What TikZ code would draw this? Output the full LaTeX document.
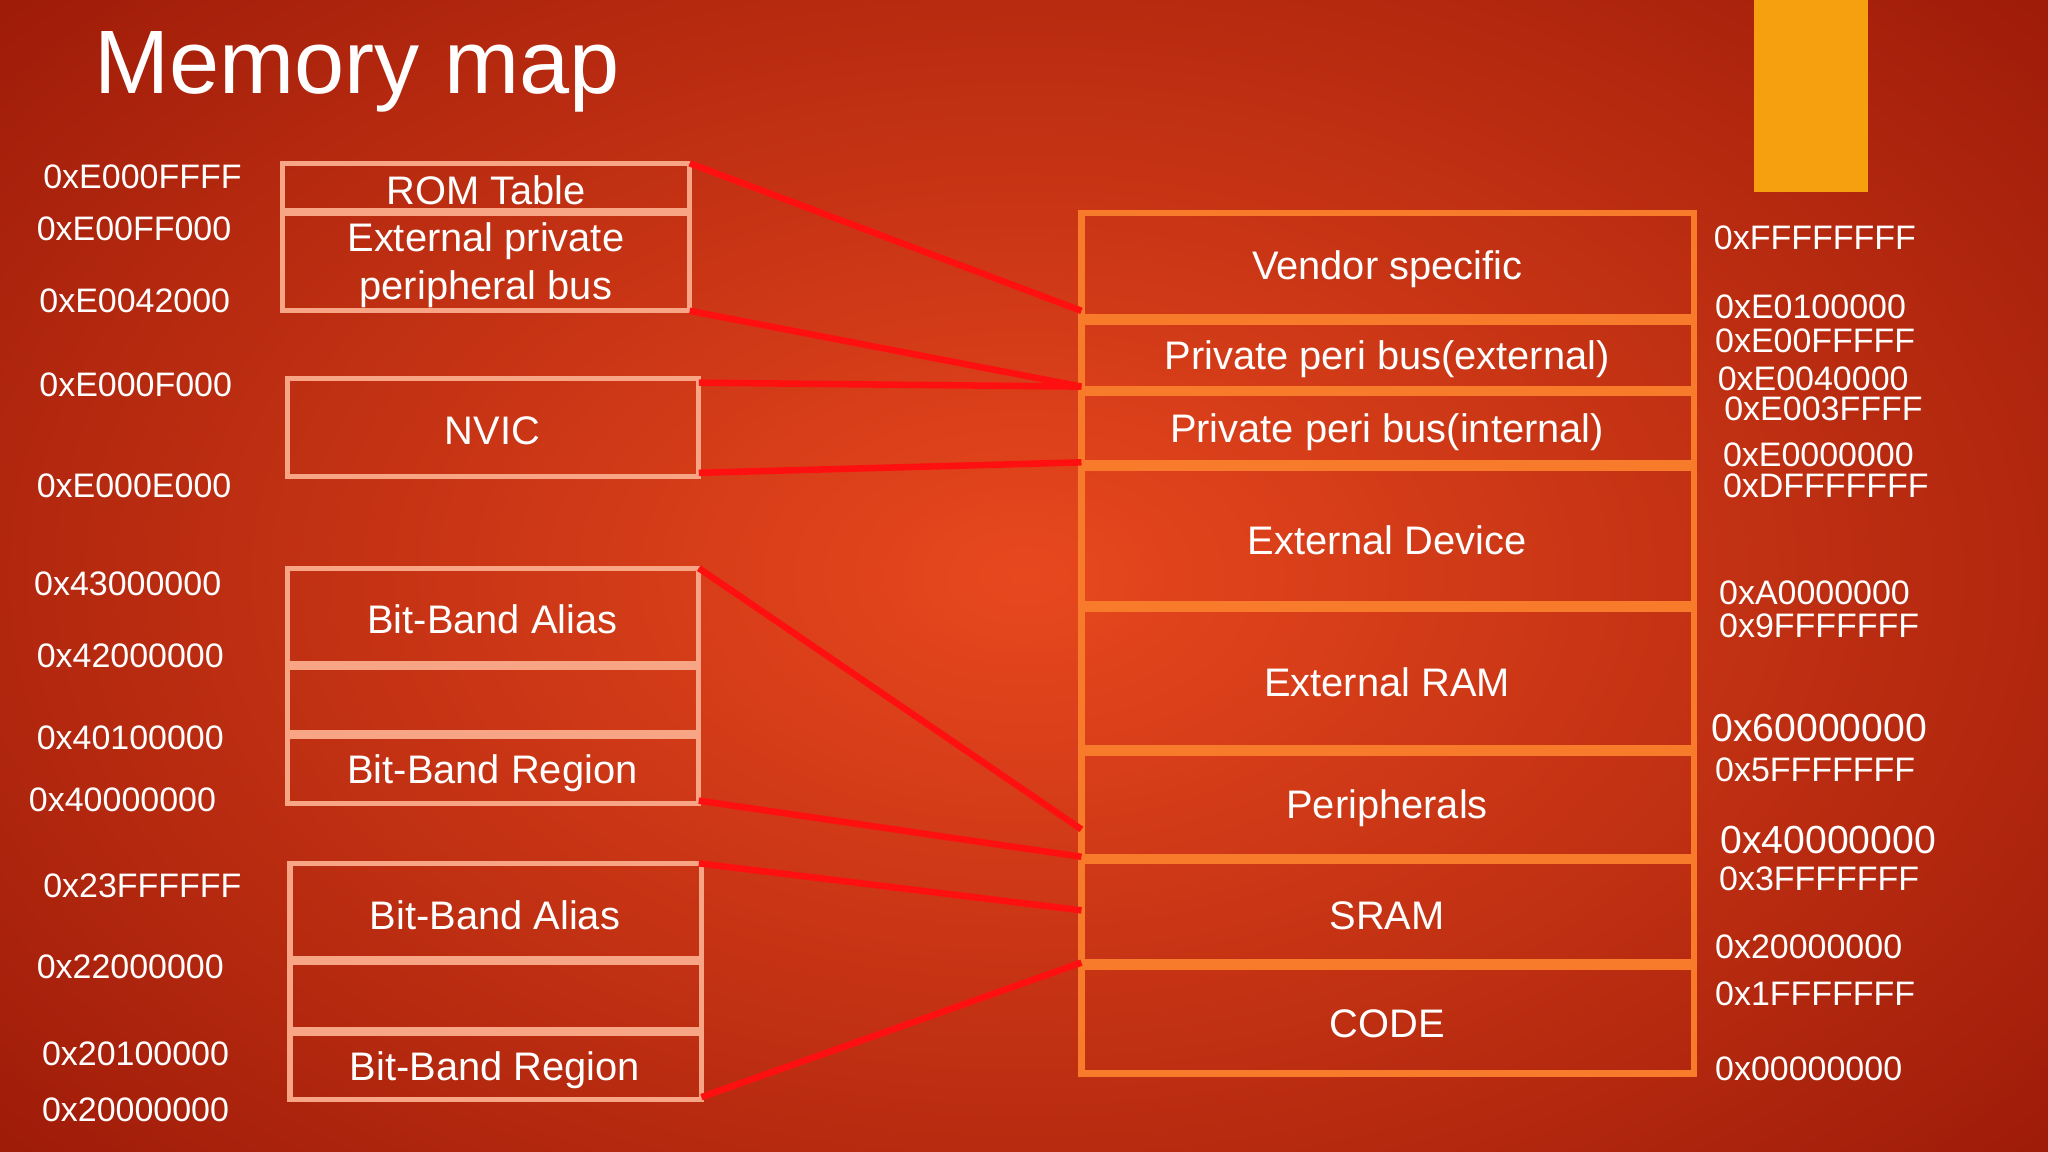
\documentclass[tikz,border=0pt]{standalone}
\usepackage{fontspec}
\setmainfont{Liberation Sans}
\begin{document}
\begin{tikzpicture}[x=1pt,y=-1pt,
  rbox/.style={draw=boxR,line width=5pt},
  lbox/.style={draw=boxL,line width=4pt},
  lab/.style={text=white,font=\fontsize{30.5}{33}\selectfont},
  adr/.style={text=white,font=\fontsize{26}{28}\selectfont,anchor=west,inner sep=0},
  link/.style={draw=lineR,line width=5pt}]
\definecolor{bgin}{HTML}{E8481E}\definecolor{bgout}{HTML}{9C1A08}
\definecolor{boxR}{HTML}{F87B2C}\definecolor{boxL}{HTML}{F7A585}
\definecolor{lineR}{HTML}{FF1010}\definecolor{tab}{HTML}{F6A010}
\useasboundingbox (0,0) rectangle (1568,882);
\shade[inner color=bgin,outer color=bgout] (-300,-250) rectangle (1868,1132);
\fill[tab] (1343,0) rectangle (1430,147);
\node[anchor=west,text=white,font=\fontsize{69}{72}\selectfont,inner sep=0] (title) at (72,55) {Memory map};
% right stack
\foreach \n/\a/\b/\t in {v/163/243/Vendor specific, pe/246/298/Private peri bus(external), pi/301/355/Private peri bus(internal), ed/358/463/External Device, er/466/573/External RAM, pr/576/656/Peripherals, sr/659/737/SRAM, cd/740/822/CODE}
  {\draw[rbox] (828,\a) rectangle (1297,\b);
   \node[lab] (\n) at (1062,{(\a+\b)/2+3}) {\t};}
% left boxes
\draw[lbox] (216,125) rectangle (528,161); \node[lab] (rom) at (372,146) {ROM Table};
\draw[lbox] (216,163) rectangle (528,238); \node[lab,align=center,font=\fontsize{30.5}{37}\selectfont] (epb) at (372,203) {External private\\peripheral bus};
\draw[lbox] (220,290) rectangle (535,365); \node[lab] (nvic) at (377,330) {NVIC};
\draw[lbox] (220,435) rectangle (535,508); \node[lab] (ba1) at (377,474) {Bit-Band Alias};
\draw[lbox] (220,511) rectangle (535,561);
\draw[lbox] (220,564) rectangle (535,615); \node[lab] (br1) at (377,592) {Bit-Band Region};
\draw[lbox] (222,661) rectangle (537,734); \node[lab] (ba2) at (379,701) {Bit-Band Alias};
\draw[lbox] (222,737) rectangle (537,788);
\draw[lbox] (222,791) rectangle (537,842); \node[lab] (br2) at (379,819) {Bit-Band Region};
% connector ends
\foreach \n/\x/\y in {a1/528/125,a2/828/238,b1/528/238,b2/828/296,c1/535/293,d1/535/362,d2/828/354,e1/535/435,e2/828/635,f1/535/613,f2/828/656,g1/535/661,g2/828/697,h1/537/840,h2/828/737}
  \coordinate (\n) at (\x,\y);
\draw[link] (a1)--(a2); \draw[link] (b1)--(b2); \draw[link] (c1)--(b2);
\draw[link] (d1)--(d2); \draw[link] (e1)--(e2); \draw[link] (f1)--(f2);
\draw[link] (g1)--(g2); \draw[link] (h1)--(h2);
% left addresses
\foreach \n/\x/\y/\t in {l1/33/135/0xE000FFFF,l2/28/175/0xE00FF000,l3/30/230/0xE0042000,l4/30/295/0xE000F000,l5/28/372/0xE000E000,l6/26/447/0x43000000,l7/28/502/0x42000000,l8/28/565/0x40100000,l9/22/612/0x40000000,l10/33/678/0x23FFFFFF,l11/28/740/0x22000000,l12/32/807/0x20100000,l13/32/850/0x20000000}
  \node[adr] (\n) at (\x,\y) {\t};
% right addresses
\foreach \n/\x/\y/\t in {r1/1312/182/0xFFFFFFFF,r2/1313/235/0xE0100000,r3/1313/261/0xE00FFFFF,r4/1315/290/0xE0040000,r5/1320/313/0xE003FFFF,r6/1319/348/0xE0000000,r7/1319/372/0xDFFFFFFF,r8/1316/454/0xA0000000,r9/1316/479/0x9FFFFFFF,r11/1313/589/0x5FFFFFFF,r13/1316/673/0x3FFFFFFF,r14/1313/725/0x20000000,r15/1313/761/0x1FFFFFFF,r16/1313/818/0x00000000}
  \node[adr] (\n) at (\x,\y) {\t};
\node[adr,font=\fontsize{30}{32}\selectfont] (r10) at (1310,557) {0x60000000};
\node[adr,font=\fontsize{30}{32}\selectfont] (r12) at (1317,643) {0x40000000};
\end{tikzpicture}
\end{document}
